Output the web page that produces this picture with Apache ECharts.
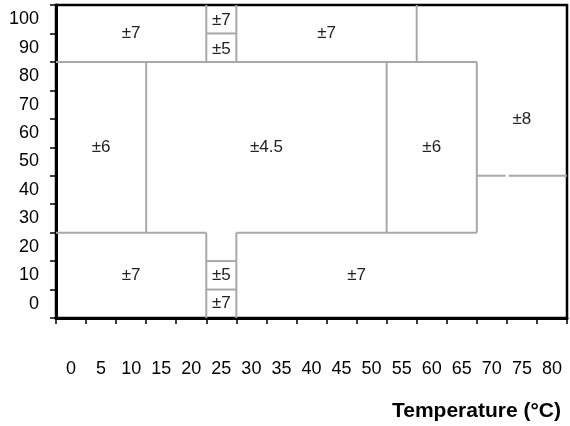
<!DOCTYPE html>
<html>
<head>
<meta charset="utf-8">
<script src="https://cdn.jsdelivr.net/npm/echarts@6/dist/echarts.min.js"></script>
<style>
  html, body { margin: 0; padding: 0; background: #fff; }
  #chart { width: 570px; height: 426px; }
</style>
</head>
<body>
<div id="chart"></div>
<script>
// Axis categories: temperature (°C) and the percentage scale
const tempLabels = ['0','5','10','15','20','25','30','35','40','45','50','55','60','65','70','75','80'];
const pctLabels = ['0','10','20','30','40','50','60','70','80','90','100'];

// Zone boundaries as segments [x1, y1, x2, y2] in °C / % units
const zoneEdges = [
  [-2.5, 85, 67.5, 85],
  [22.5, 95, 27.5, 95],
  [-2.5, 25, 22.5, 25],
  [27.5, 25, 67.5, 25],
  [22.5, 15, 27.5, 15],
  [22.5, 5, 27.5, 5],
  [67.5, 45, 72.3, 45],
  [72.8, 45, 82.5, 45],
  [22.5, 85, 22.5, 105],
  [27.5, 85, 27.5, 105],
  [57.5, 85, 57.5, 105],
  [12.5, 25, 12.5, 85],
  [52.5, 25, 52.5, 85],
  [67.5, 25, 67.5, 85],
  [22.5, -5, 22.5, 25],
  [27.5, -5, 27.5, 25]
];

// Tolerance of each zone and where its label sits
const zoneText = ['±7', '±7', '±5', '±7', '±6', '±4.5', '±6', '±8', '±7', '±5', '±7', '±7'];
const zoneTextX = [10, 25, 25, 42.5, 5, 32.5, 60, 75, 10, 25, 25, 47.5];
const zoneTextY = [95, 99.5, 89.5, 95, 55, 55, 55, 65, 10, 10, 0, 10];

const FONT = '"Liberation Sans", Arial, sans-serif';

const chart = echarts.init(document.getElementById('chart'), null, { renderer: 'canvas' });

const option = {
  backgroundColor: '#fff',
  animation: false,
  title: {
    text: 'Temperature (°C)',
    right: 4,
    top: 396,
    textStyle: { fontFamily: FONT, fontSize: 21, fontWeight: 'bold', color: '#000' }
  },
  grid: {
    left: 56, right: 3, top: 5, bottom: 108,
    show: true, borderColor: '#000', borderWidth: 2.5, backgroundColor: '#fff'
  },
  xAxis: [
    {
      type: 'category',
      data: tempLabels,
      boundaryGap: true,
      axisLine: { show: true, onZero: false, lineStyle: { color: '#000', width: 3 } },
      axisTick: { show: true, alignWithLabel: false, interval: 0, length: 6, lineStyle: { color: '#000', width: 1.5 } },
      axisLabel: { margin: 42, fontFamily: FONT, fontSize: 18, color: '#000', interval: 0 },
      splitLine: { show: false }
    },
    { type: 'value', min: -2.5, max: 82.5, show: false }
  ],
  yAxis: [
    {
      type: 'category',
      data: pctLabels,
      boundaryGap: true,
      axisLine: { show: true, onZero: false, lineStyle: { color: '#000', width: 3 } },
      axisTick: { show: true, alignWithLabel: false, interval: 0, length: 6, lineStyle: { color: '#000', width: 1.5 } },
      axisLabel: { margin: 17, fontFamily: FONT, fontSize: 18, color: '#000', interval: 0 },
      splitLine: { show: false }
    },
    { type: 'value', min: -5, max: 105, show: false }
  ],
  series: [
    {
      type: 'custom',
      name: 'edges',
      xAxisIndex: 1,
      yAxisIndex: 1,
      silent: true,
      data: zoneEdges,
      encode: { x: [0, 2], y: [1, 3] },
      renderItem: function (params, api) {
        const a = api.coord([api.value(0), api.value(1)]);
        const b = api.coord([api.value(2), api.value(3)]);
        return {
          type: 'line',
          shape: { x1: a[0], y1: a[1], x2: b[0], y2: b[1] },
          style: { stroke: '#a8a8a8', lineWidth: 2 }
        };
      }
    },
    {
      type: 'custom',
      name: 'zones',
      xAxisIndex: 1,
      yAxisIndex: 1,
      silent: true,
      data: zoneText.map((t, i) => [zoneTextX[i], zoneTextY[i], t]),
      encode: { x: 0, y: 1 },
      renderItem: function (params, api) {
        const p = api.coord([api.value(0), api.value(1)]);
        return {
          type: 'text',
          x: p[0],
          y: p[1],
          style: {
            text: zoneText[params.dataIndex],
            fill: '#222',
            font: '17px ' + FONT,
            align: 'center',
            verticalAlign: 'middle'
          }
        };
      }
    }
  ]
};

chart.setOption(option);
</script>
</body>
</html>
